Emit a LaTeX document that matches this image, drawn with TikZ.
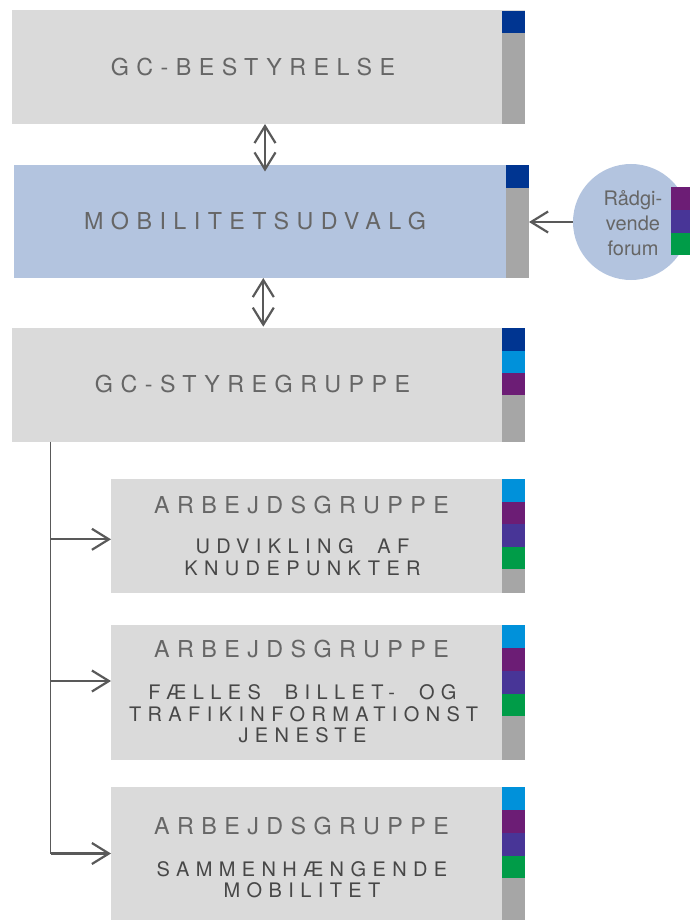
\documentclass[tikz,border=0pt]{standalone}
\usepackage{fontspec}
\setmainfont{TeX Gyre Heros}
\newfontfamily\spacedfont[LetterSpace=32]{TeX Gyre Heros}
\newfontfamily\subfont[LetterSpace=32,WordSpace=2]{TeX Gyre Heros}
\usetikzlibrary{arrows.meta}

\definecolor{panelgray}{HTML}{DADADA}
\definecolor{panelblue}{HTML}{B3C4DF}
\definecolor{tabgray}{HTML}{A6A6A6}
\definecolor{tabnavy}{HTML}{003591}
\definecolor{tabcyan}{HTML}{0091DA}
\definecolor{tabplum}{HTML}{6C1D75}
\definecolor{tabindigo}{HTML}{483597}
\definecolor{tabgreen}{HTML}{009C48}
\definecolor{headgray}{HTML}{666666}
\definecolor{subgray}{HTML}{474747}
\definecolor{linkgray}{HTML}{595959}

\begin{document}
\begin{tikzpicture}[x=1pt,y=-1pt,
  >={Straight Barb[length=17pt,width=21pt]},
  panel/.style={rectangle, inner sep=0pt, outer sep=0pt, anchor=north west, fill=panelgray},
  headtext/.style={anchor=base, inner sep=0pt, text=headgray,
    font=\spacedfont\fontsize{23.3}{28}\selectfont},
  subtext/.style={anchor=base, inner sep=0pt, text=subgray,
    font=\subfont\fontsize{20}{24}\selectfont},
  forumtext/.style={anchor=base, inner sep=0pt, text=headgray,
    font=\fontsize{20}{25}\selectfont},
  link/.style={draw=linkgray, line width=2.2pt},
  trunk/.style={draw=linkgray, line width=1.4pt}]

\useasboundingbox (0,0) rectangle (690,920);
\clip (0,0) rectangle (690,920);

% ---------- main panels ----------
\node[panel, minimum width=513pt, minimum height=114pt] (best) at (12,10) {};
\node[panel, fill=panelblue, minimum width=515pt, minimum height=113pt] (mob) at (14,165) {};
\node[panel, minimum width=513pt, minimum height=113.5pt] (sty) at (12,328) {};

% ---------- working groups ----------
\node[panel, minimum width=414pt, minimum height=113.5pt] (wg1) at (111,479) {};
\node[panel, minimum width=414pt, minimum height=134.5pt] (wg2) at (111,625) {};
\node[panel, minimum width=414pt, minimum height=140pt] (wg3) at (111,786.5) {};

% ---------- colour tabs ----------
% GC-Bestyrelse
\fill[tabnavy] (502,11) rectangle (525,33);
\fill[tabgray] (502,33) rectangle (525,124);
% Mobilitetsudvalg
\fill[tabnavy] (506,165) rectangle (529,188);
\fill[tabgray] (506,188) rectangle (529,278);
% GC-Styregruppe
\fill[tabnavy] (502,328) rectangle (525,351);
\fill[tabcyan] (502,351) rectangle (525,373);
\fill[tabplum] (502,373) rectangle (525,395);
\fill[tabgray] (502,395) rectangle (525,441.5);
% Arbejdsgruppe 1
\fill[tabcyan] (502,479) rectangle (525,502);
\fill[tabplum] (502,502) rectangle (525,524);
\fill[tabindigo] (502,524) rectangle (525,547);
\fill[tabgreen] (502,547) rectangle (525,569);
\fill[tabgray] (502,569) rectangle (525,592.5);
% Arbejdsgruppe 2
\fill[tabcyan] (502,625) rectangle (525,648);
\fill[tabplum] (502,648) rectangle (525,671);
\fill[tabindigo] (502,671) rectangle (525,694);
\fill[tabgreen] (502,694) rectangle (525,716);
\fill[tabgray] (502,716) rectangle (525,759.5);
% Arbejdsgruppe 3
\fill[tabcyan] (502,786.5) rectangle (525,810);
\fill[tabplum] (502,810) rectangle (525,833);
\fill[tabindigo] (502,833) rectangle (525,856);
\fill[tabgreen] (502,856) rectangle (525,878);
\fill[tabgray] (502,878) rectangle (525,926);

% ---------- advisory forum ----------
\node[circle, fill=panelblue, inner sep=0pt, minimum size=116pt] (forum) at (631,222) {};
\fill[tabplum] (671,187) rectangle (692,210);
\fill[tabindigo] (671,210) rectangle (692,233);
\fill[tabgreen] (671,233) rectangle (692,255);
\node[forumtext] (forum1) at (633,205) {Rådgi-};
\node[forumtext] (forum2) at (633,230) {vende};
\node[forumtext] (forum3) at (633,255) {forum};

% ---------- titles ----------
\node[headtext] (bestT) at (253,76) {GC-BESTYRELSE};
\node[headtext] (mobT) at (255,229.3) {MOBILITETSUDVALG};
\node[headtext] (styT) at (252.5,392.7) {GC-STYREGRUPPE};

\node[headtext] (wg1T) at (301.5,513.3) {ARBEJDSGRUPPE};
\node[subtext] (wg1a) at (302.5,553) {UDVIKLING AF};
\node[subtext] (wg1b) at (302.5,575) {KNUDEPUNKTER};

\node[headtext] (wg2T) at (301.5,657.7) {ARBEJDSGRUPPE};
\node[subtext] (wg2a) at (302.5,699) {FÆLLES BILLET- OG};
\node[subtext] (wg2b) at (303.5,721) {TRAFIKINFORMATIONST};
\node[subtext] (wg2c) at (302.5,742.7) {JENESTE};

\node[headtext] (wg3T) at (301.5,834) {ARBEJDSGRUPPE};
\node[subtext] (wg3a) at (302,876) {SAMMENHÆNGENDE};
\node[subtext] (wg3b) at (302,897.5) {MOBILITET};

% ---------- connectors ----------
\coordinate (upper) at (265,0);
\coordinate (lower) at (263.3,0);
\draw[link, <->, shorten >=-6.5pt] (best.south -| upper) -- (mob.north -| upper);
\draw[link, <->, shorten >=1.3pt] (mob.south -| lower) -- (sty.north -| lower);
\draw[link, ->] (forum.west) -- (mob.east |- forum.west);

\coordinate (b1) at (50.5,539.3);
\coordinate (b2) at (50.5,681);
\coordinate (b3) at (50.5,853.5);
\draw[trunk] (sty.south -| b1) -- (b3);
\draw[link, ->] (b1) -- (b1 -| wg1.west);
\draw[link, ->] (b2) -- (b2 -| wg2.west);
\draw[link, ->] (b3) -- (b3 -| wg3.west);
\end{tikzpicture}
\end{document}
